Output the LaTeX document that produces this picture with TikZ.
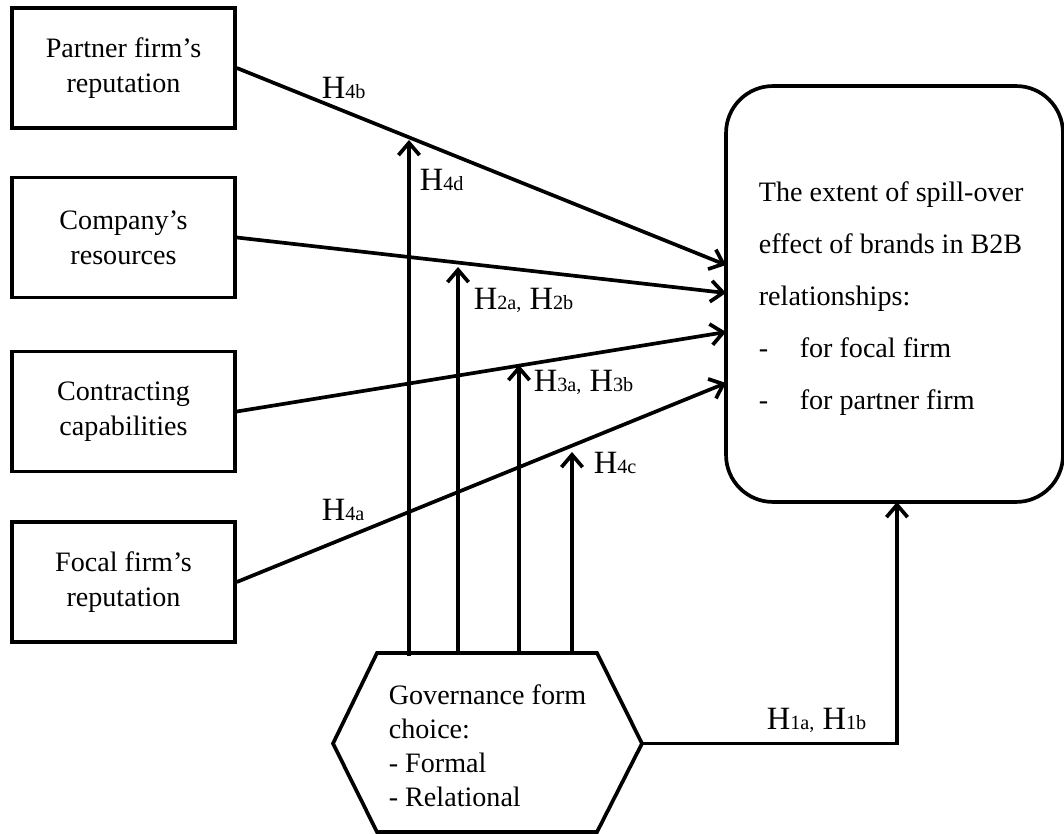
\documentclass[tikz,border=0pt]{standalone}
\usepackage{fontspec}
\setmainfont{Liberation Serif}
\usetikzlibrary{arrows.meta,calc}

% smaller index part of a hypothesis label, kept on the baseline
\newcommand\hidx[1]{{\fontsize{11.5}{12}\selectfont #1}}

\begin{document}
\begin{tikzpicture}[x=0.02cm,y=-0.02cm,
  line width=2.1pt,
  factor/.style={draw,minimum width=4.46cm,minimum height=2.4cm,align=center,
    font=\fontsize{16}{20}\selectfont,inner sep=0pt},
  outcome/.style={draw,rounded corners=0.94cm,minimum width=6.74cm,minimum height=8.32cm},
  bodytext/.style={align=left,inner sep=0pt},
  hyp/.style={anchor=west,inner sep=0pt,font=\fontsize{18.5}{20}\selectfont},
  link/.style={-{Straight Barb[length=7pt,width=12pt]}}]

  \useasboundingbox (0,0) rectangle (1064,834);

  % antecedent boxes
  \node[factor] (pr) at (123.5,68)    {Partner firm's\\reputation};
  \node[factor] (cr) at (123.5,237.5) {Company's\\resources};
  \node[factor] (cc) at (123.5,411.5) {Contracting\\capabilities};
  \node[factor] (fr) at (123.5,582)   {Focal firm's\\reputation};

  % outcome box
  \node[outcome] (sp) at (894.5,294) {};
  \node[bodytext,anchor=west,font=\fontsize{16}{29.6}\selectfont] (sptext) at (757,298.5)
    {The extent of spill-over\\
     effect of brands in B2B\\
     relationships:\\
     \makebox[23.3pt][l]{-}for focal firm\\
     \makebox[23.3pt][l]{-}for partner firm};

  % governance hexagon
  \coordinate (gtl) at (377,653);
  \coordinate (gtr) at (597,653);
  \coordinate (gr)  at (642,743.5);
  \coordinate (gbr) at (597,832);
  \coordinate (gbl) at (377,832);
  \coordinate (gl)  at (333,743.5);
  \draw[line join=miter] (gtl) -- (gtr) -- (gr) -- (gbr) -- (gbl) -- (gl) -- cycle;
  \node[bodytext,anchor=west,font=\fontsize{16}{19.3}\selectfont] (gov) at (387,746)
    {Governance form\\choice:\\- Formal\\- Relational};

  % arrow ends on the outcome box
  \coordinate (e1) at (726,265);
  \coordinate (e2) at (726,293);
  \coordinate (e3) at (726,332);
  \coordinate (e4) at (726,383);
  \coordinate (e5) at (897,502);

  % direct effects
  \draw[link] (pr.east) -- (e1);
  \draw[link] (cr.east) -- (e2);
  \draw[link] (cc.east) -- (e3);
  \draw[link] (fr.east) -- (e4);
  \draw[link] (gr) -| (e5);

  % moderating effects of governance form
  \coordinate (m1s) at (409,656);  \coordinate (m1t) at (409,140);
  \coordinate (m2s) at (458,653);  \coordinate (m2t) at (458,267);
  \coordinate (m3s) at (519,653);  \coordinate (m3t) at (519,365);
  \coordinate (m4s) at (572,653);  \coordinate (m4t) at (572,452);
  \draw[link] (m1s) -- (m1t);
  \draw[link] (m2s) -- (m2t);
  \draw[link] (m3s) -- (m3t);
  \draw[link] (m4s) -- (m4t);

  % hypothesis labels
  \node[hyp] (h4b) at (320,88)  {H\hidx{4b}};
  \node[hyp] (h4d) at (418,180) {H\hidx{4d}};
  \node[hyp] (h2)  at (472,300) {H\hidx{2a,} H\hidx{2b}};
  \node[hyp] (h3)  at (532,382) {H\hidx{3a,} H\hidx{3b}};
  \node[hyp] (h4c) at (592,463) {H\hidx{4c}};
  \node[hyp] (h4a) at (320,510) {H\hidx{4a}};
  \node[hyp] (h1)  at (765,720) {H\hidx{1a,} H\hidx{1b}};
\end{tikzpicture}
\end{document}
